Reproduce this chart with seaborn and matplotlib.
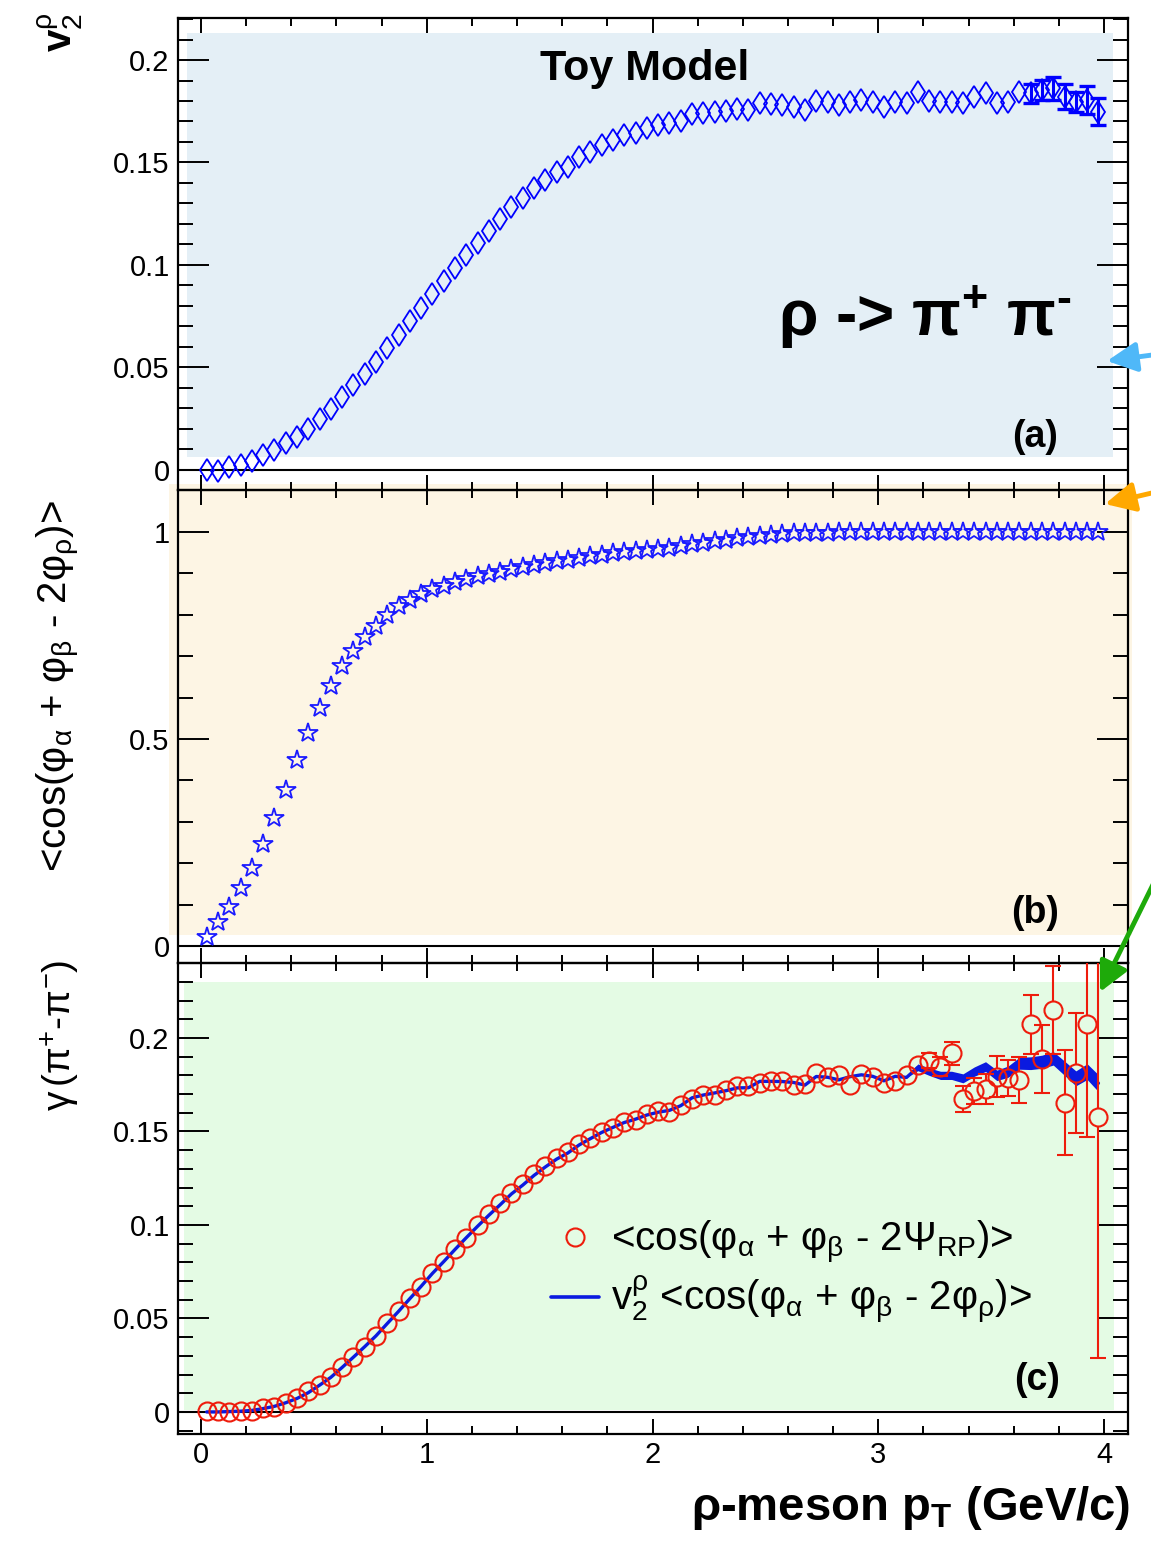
import numpy as np
import pandas as pd
import matplotlib
matplotlib.use('Agg')
import matplotlib.pyplot as plt
import seaborn as sns
from matplotlib.patches import Rectangle, FancyArrowPatch
from matplotlib.lines import Line2D
from matplotlib.ticker import MultipleLocator, FuncFormatter

sns.set_theme(style='ticks')
plt.rcParams['font.family'] = ['Liberation Sans', 'DejaVu Sans']
plt.rcParams['text.color'] = 'black'
plt.rcParams['mathtext.fontset'] = 'custom'
plt.rcParams['mathtext.rm'] = 'Liberation Sans'
plt.rcParams['mathtext.it'] = 'Liberation Sans:italic'
plt.rcParams['mathtext.bf'] = 'Liberation Sans:bold'

# ---- data ----
pt = [0.025, 0.075, 0.125, 0.175, 0.225, 0.275, 0.325, 0.375, 0.425, 0.475,
      0.525, 0.575, 0.625, 0.675, 0.725, 0.775, 0.825, 0.875, 0.925, 0.975,
      1.025, 1.075, 1.125, 1.175, 1.225, 1.275, 1.325, 1.375, 1.425, 1.475,
      1.525, 1.575, 1.625, 1.675, 1.725, 1.775, 1.825, 1.875, 1.925, 1.975,
      2.025, 2.075, 2.125, 2.175, 2.225, 2.275, 2.325, 2.375, 2.425, 2.475,
      2.525, 2.575, 2.625, 2.675, 2.725, 2.775, 2.825, 2.875, 2.925, 2.975,
      3.025, 3.075, 3.125, 3.175, 3.225, 3.275, 3.325, 3.375, 3.425, 3.475,
      3.525, 3.575, 3.625, 3.675, 3.725, 3.775, 3.825, 3.875, 3.925, 3.975]

# (a) v2 of rho
v2 = [0.000, -0.0005, 0.0015, 0.0025, 0.0044, 0.0073, 0.0098, 0.013, 0.016, 0.020,
      0.025, 0.0295, 0.0355, 0.0413, 0.0467, 0.0527, 0.0593, 0.0657, 0.0727, 0.079,
      0.0859, 0.092, 0.0987, 0.1049, 0.1109, 0.1166, 0.1224, 0.1281, 0.1325, 0.1374,
      0.1415, 0.1455, 0.148, 0.1527, 0.1553, 0.1585, 0.161, 0.1634, 0.1642, 0.1667,
      0.1683, 0.1694, 0.170, 0.1737, 0.1743, 0.1748, 0.1753, 0.176, 0.1756, 0.1789,
      0.1785, 0.178, 0.1772, 0.1756, 0.1801, 0.1796, 0.178, 0.1796, 0.1805, 0.1796,
      0.1772, 0.1796, 0.1789, 0.1846, 0.1801, 0.1796, 0.1796, 0.1789, 0.1821, 0.1837,
      0.1789, 0.1796, 0.1846, 0.1837, 0.1853, 0.1862, 0.1821, 0.1796, 0.1805, 0.1748]
v2_err = [0.0] * 73 + [0.0045, 0.005, 0.0057, 0.006, 0.005, 0.007, 0.0065]

# (b) <cos(phi_a + phi_b - 2 phi_rho)>
cosb = [0.022, 0.059, 0.095, 0.139, 0.188, 0.246, 0.308, 0.377, 0.448, 0.514,
        0.574, 0.628, 0.675, 0.713, 0.747, 0.773, 0.800, 0.820, 0.835, 0.850,
        0.862, 0.870, 0.879, 0.887, 0.893, 0.898, 0.904, 0.910, 0.915, 0.920,
        0.925, 0.929, 0.933, 0.938, 0.941, 0.945, 0.948, 0.951, 0.954, 0.956,
        0.958, 0.960, 0.965, 0.970, 0.973, 0.977, 0.980, 0.984, 0.987, 0.990,
        0.992, 0.994, 0.996, 0.997, 0.998, 0.998, 0.999, 0.999, 0.999, 0.999,
        0.999, 0.999, 1.000, 1.000, 1.000, 1.000, 1.000, 1.000, 1.000, 1.000,
        1.000, 1.000, 1.000, 1.000, 1.000, 1.000, 1.000, 1.000, 1.000, 1.000]

# (c) gamma, <cos(phi_a + phi_b - 2 Psi_RP)>
gam = [0.0005, 0.0005, 0.0, 0.0005, 0.0005, 0.002, 0.0028, 0.005, 0.0073, 0.0112,
       0.0144, 0.0189, 0.0239, 0.0292, 0.0349, 0.0406, 0.0474, 0.054, 0.0608, 0.067,
       0.0742, 0.0804, 0.087, 0.0932, 0.100, 0.1059, 0.1116, 0.1173, 0.1219, 0.1271,
       0.1316, 0.1357, 0.1392, 0.1432, 0.1464, 0.1499, 0.1517, 0.1552, 0.1561, 0.1591,
       0.1608, 0.1606, 0.1642, 0.1672, 0.1695, 0.1695, 0.1722, 0.1743, 0.1743, 0.1758,
       0.1772, 0.1772, 0.1749, 0.1754, 0.1811, 0.1793, 0.1802, 0.1749, 0.1809, 0.1793,
       0.1758, 0.1772, 0.1802, 0.1856, 0.1879, 0.1847, 0.1918, 0.1672, 0.1718, 0.1726,
       0.1793, 0.1784, 0.1775, 0.2073, 0.1888, 0.215, 0.1654, 0.1814, 0.2073, 0.1579]
gam_err = [0.0] * 64 + [0.004, 0.0052, 0.0062, 0.007, 0.007, 0.008, 0.011, 0.0096,
                        0.0125, 0.0158, 0.018, 0.0234, 0.028, 0.032, 0.06, 0.129]

# (c) v2 * <cos(phi_a + phi_b - 2 phi_rho)> band
band = [0.0, 0.0, 0.0002, 0.0004, 0.0008, 0.0018, 0.003, 0.0049, 0.0072, 0.0103,
        0.0143, 0.0185, 0.0238, 0.0293, 0.0349, 0.0407, 0.0473, 0.0538, 0.0606, 0.0672,
        0.0741, 0.0804, 0.0869, 0.0932, 0.0993, 0.1052, 0.1108, 0.1166, 0.1213, 0.1265,
        0.131, 0.1352, 0.1385, 0.1428, 0.1462, 0.1495, 0.1522, 0.1548, 0.1566, 0.1588,
        0.1603, 0.1613, 0.1638, 0.168, 0.1695, 0.1706, 0.1718, 0.1733, 0.1734, 0.1768,
        0.1768, 0.1767, 0.1762, 0.1748, 0.1794, 0.179, 0.1776, 0.1793, 0.1803, 0.1795,
        0.1771, 0.1795, 0.1789, 0.1843, 0.182, 0.180, 0.180, 0.1784, 0.182, 0.1847,
        0.180, 0.182, 0.1865, 0.1865, 0.1873, 0.1891, 0.1838, 0.1784, 0.182, 0.1758]
band_hw = [0.0] * 63 + [0.0018, 0.002, 0.0022, 0.0022, 0.0024, 0.0025, 0.0026, 0.0028,
                        0.003, 0.0032, 0.0034, 0.0035, 0.0036, 0.0038, 0.004, 0.0042, 0.0045]

df = pd.DataFrame({'pt': pt, 'v2': v2, 'v2_err': v2_err, 'cosb': cosb,
                   'gam': gam, 'gam_err': gam_err, 'band': band, 'band_hw': band_hw})

# ---- figure layout in pixels ----
W, H = 1151, 1542
def fx(x):
    return x / W
def fy(y):
    return 1 - y / H

fig = plt.figure(figsize=(W / 100, H / 100), dpi=100)
left, right = 178, 1128
panels = [(18, 490), (490, 963), (963, 1434)]
axes = [fig.add_axes([fx(left), fy(b), (right - left) / W, (b - t) / H]) for t, b in panels]
ax_a, ax_b, ax_c = axes

# coloured backdrops behind each pad
for (x0, y0, x1, y1, col) in [(187, 33, 1113, 457, '#e4eff6'),
                               (169, 484, 1132, 935, '#fdf5e4'),
                               (184, 982, 1114, 1410, '#e4fbe4')]:
    fig.add_artist(Rectangle((fx(x0), fy(y1)), (x1 - x0) / W, (y1 - y0) / H,
                             transform=fig.transFigure, color=col, lw=0, zorder=-1))

fmt = FuncFormatter(lambda v, p: '0' if abs(v) < 1e-9 else f'{v:g}')
ylims = [(-0.0098, 0.2205), (-0.041, 1.101), (-0.0118, 0.2401)]
ymaj = [0.05, 0.5, 0.05]
ymin = [0.01, 0.1, 0.01]
for ax, yl, mj, mn in zip(axes, ylims, ymaj, ymin):
    ax.set_facecolor('none')
    ax.set_xlim(-0.102, 4.106)
    ax.set_ylim(*yl)
    ax.xaxis.set_major_locator(MultipleLocator(1))
    ax.xaxis.set_minor_locator(MultipleLocator(0.2))
    ax.yaxis.set_major_locator(MultipleLocator(mj))
    ax.yaxis.set_minor_locator(MultipleLocator(mn))
    ax.xaxis.set_major_formatter(fmt)
    ax.yaxis.set_major_formatter(fmt)
    ax.tick_params(which='both', direction='in', top=True, right=True,
                   width=1.4, color='black', labelsize=21, labelcolor='black')
    ax.tick_params(axis='y', which='major', length=22, pad=6)
    ax.tick_params(axis='y', which='minor', length=11)
    ax.tick_params(axis='x', which='major', length=11, pad=5)
    ax.tick_params(axis='x', which='minor', length=6)
    for s in ax.spines.values():
        s.set_color('black')
        s.set_linewidth(1.6)
    ax.axhline(0, color='black', lw=1.5, zorder=1)
ax_a.tick_params(labelbottom=False)
ax_b.tick_params(labelbottom=False)

# ---- (a) ----
sns.lineplot(data=df, x='pt', y='v2', ax=ax_a, estimator=None, linestyle='',
             marker='d', markersize=11.5, markerfacecolor='none',
             markeredgecolor='#0000ff', markeredgewidth=1.3, zorder=3)
ea = df[df['v2_err'] > 0]
ax_a.errorbar(ea['pt'], ea['v2'], yerr=ea['v2_err'], fmt='none', ecolor='#0000ff',
              elinewidth=2.2, capsize=6, capthick=2.4, zorder=2)

# ---- (b) ----
sns.lineplot(data=df, x='pt', y='cosb', ax=ax_b, estimator=None, linestyle='',
             marker='*', markersize=15, markerfacecolor='none',
             markeredgecolor='#1a1aff', markeredgewidth=1.3, zorder=3)

# ---- (c) ----
ax_c.fill_between(df['pt'], df['band'] - df['band_hw'], df['band'] + df['band_hw'],
                  color='#0a1ae0', lw=0, zorder=2)
sns.lineplot(data=df, x='pt', y='band', ax=ax_c, estimator=None, color='#0a1ae0',
             lw=2.4, zorder=2)
# error bars stop at the rim of the open circles, as ROOT draws them
r_c = 0.0048
ec = df[df['gam_err'] > 0]
big = ec[ec['gam_err'] > r_c]
ax_c.vlines(big['pt'], big['gam'] + r_c, big['gam'] + big['gam_err'], color='#ee1c0c',
            lw=1.5, zorder=3)
ax_c.vlines(big['pt'], big['gam'] - big['gam_err'], big['gam'] - r_c, color='#ee1c0c',
            lw=1.5, zorder=3)
ax_c.errorbar(ec['pt'], ec['gam'], yerr=ec['gam_err'], fmt='none', ecolor='#ee1c0c',
              elinewidth=0, capsize=6, capthick=1.5, zorder=3)
sns.lineplot(data=df, x='pt', y='gam', ax=ax_c, estimator=None, linestyle='',
             marker='o', markersize=13, markerfacecolor='none',
             markeredgecolor='#ee1c0c', markeredgewidth=1.5, zorder=4)
for ax in axes:
    ax.set_xlabel('')
    ax.set_ylabel('')

handles = [Line2D([], [], linestyle='', marker='o', markersize=13, markerfacecolor='none',
                  markeredgecolor='#ee1c0c', markeredgewidth=1.5),
           Line2D([], [], color='#0a1ae0', lw=2.6)]
labels = [r'<cos($\mathrm{\varphi}_{\mathrm{\alpha}}$ + $\mathrm{\varphi}_{\mathrm{\beta}}$'
          r' - 2$\mathrm{\Psi}_{\mathrm{RP}}$)>',
          r'$\mathrm{v}_{2}^{\mathrm{\rho}}$ <cos($\mathrm{\varphi}_{\mathrm{\alpha}}$ + '
          r'$\mathrm{\varphi}_{\mathrm{\beta}}$ - 2$\mathrm{\varphi}_{\mathrm{\rho}}$)>']
ax_c.legend(handles, labels, loc='center left', bbox_to_anchor=(fx(551), fy(1272)),
            bbox_transform=fig.transFigure, frameon=False, fontsize=29,
            handlelength=1.2, handletextpad=0.3, labelspacing=0.2, borderpad=0,
            borderaxespad=0)

# ---- texts ----
fig.text(fx(645), fy(80), 'Toy Model', fontsize=31, fontweight='bold',
         ha='center', va='baseline')
fig.text(fx(778), fy(337), 'ρ -> π$^{\\mathbf{+}}$ π$^{\\mathbf{\u2010}}$', fontsize=46,
         fontweight='bold', ha='left', va='baseline')
for lab, (x, y) in zip(['(a)', '(b)', '(c)'], [(1035, 437), (1035, 913), (1037, 1380)]):
    fig.text(fx(x), fy(y), lab, fontsize=27, fontweight='bold', ha='center', va='center')

fig.text(fx(60), fy(12), r'$\mathbf{v}_{2}^{\mathrm{\rho}}$', rotation=90, ha='center',
         va='top', fontsize=29)
fig.text(fx(58), fy(686),
         r'<cos($\mathrm{\varphi}_{\mathrm{\alpha}}$ + $\mathrm{\varphi}_{\mathrm{\beta}}$'
         r' - 2$\mathrm{\varphi}_{\mathrm{\rho}}$)>',
         rotation=90, ha='center', va='center', fontsize=29)
fig.text(fx(60), fy(960), r'$\mathrm{\gamma}\,(\mathrm{\pi}^{+}$-$\mathrm{\pi}^{-})$',
         rotation=90, ha='center', va='top', fontsize=28)
fig.text(fx(1130), fy(1520), r'ρ-meson p$_{\mathbf{T}}$ (GeV/c)', fontsize=34,
         fontweight='bold', ha='right', va='baseline')

# ---- arrows on the right margin ----
for (tail, tip, col) in [((1190, 350), (1107, 361), '#4fb8f8'),
                         ((1190, 484), (1105, 504), '#ffa800'),
                         ((1175, 840), (1100, 992), '#1eaa0a')]:
    fig.add_artist(FancyArrowPatch((fx(tail[0]), fy(tail[1])), (fx(tip[0]), fy(tip[1])),
                                   transform=fig.transFigure,
                                   arrowstyle='-|>,head_length=1.0,head_width=0.5',
                                   mutation_scale=18, color=col, lw=3.5,
                                   shrinkA=0, shrinkB=0, zorder=5))

fig.savefig('out.png', dpi=100)
